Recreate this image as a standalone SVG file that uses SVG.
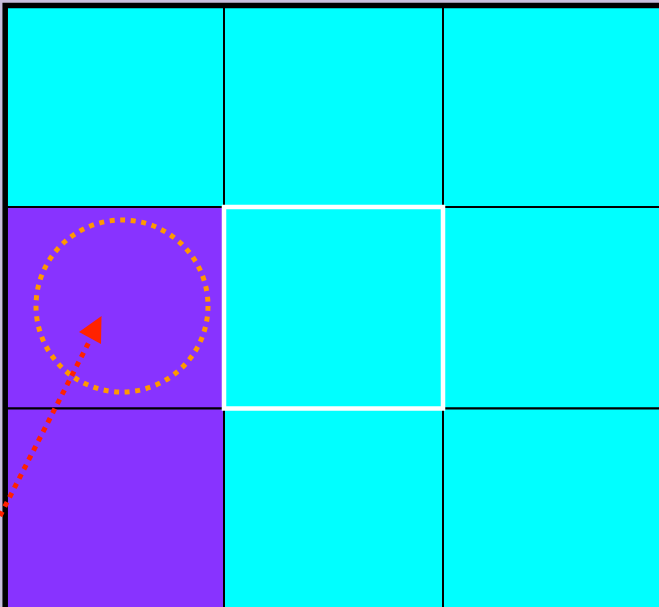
<svg xmlns="http://www.w3.org/2000/svg" width="659" height="607" viewBox="0 0 659 607">
  <style>
    .cyan { fill: #00ffff; stroke: #000000; stroke-width: 2; }
    .purple { fill: #8833ff; stroke: #000000; stroke-width: 2; }
    .sel { fill: none; stroke: #ffffff; stroke-width: 4.5; }
    .ring { fill: none; stroke: #ff9900; stroke-width: 5; stroke-dasharray: 5 5.6; }
    .arrow { stroke: #ff2200; stroke-width: 5; stroke-dasharray: 5 5.5; fill: none; }
  </style>
  <rect x="0" y="0" width="659" height="607" fill="#c8bedc"/>
  <g id="grid">
    <g id="cell-0-0"><rect class="cyan" x="5" y="5.5" width="219" height="201.5"/></g>
    <g id="cell-0-1"><rect class="cyan" x="224" y="5.5" width="219" height="201.5"/></g>
    <g id="cell-0-2"><rect class="cyan" x="443" y="5.5" width="219" height="201.5"/></g>
    <g id="cell-1-0"><rect class="purple" x="5" y="207" width="219" height="201.5"/></g>
    <g id="cell-1-1"><rect class="cyan" x="224" y="207" width="219" height="201.5"/></g>
    <g id="cell-1-2"><rect class="cyan" x="443" y="207" width="219" height="201.5"/></g>
    <g id="cell-2-0"><rect class="purple" x="5" y="408.5" width="219" height="202"/></g>
    <g id="cell-2-1"><rect class="cyan" x="224" y="408.5" width="219" height="202"/></g>
    <g id="cell-2-2"><rect class="cyan" x="443" y="408.5" width="219" height="202"/></g>
  </g>
  <g id="border">
    <rect x="5.2" y="5.5" width="660" height="610" fill="none" stroke="#000000" stroke-width="5.5"/>
  </g>
  <g id="selection">
    <rect class="sel" x="224" y="207" width="219" height="201.5"/>
  </g>
  <g id="target">
    <circle class="ring" cx="122" cy="306" r="86"/>
  </g>
  <g id="connectors">
    <line class="arrow" x1="0" y1="516" x2="90" y2="340"/>
    <polygon points="79,332 101.5,316 101,344" fill="#ff2200"/>
  </g>
</svg>
